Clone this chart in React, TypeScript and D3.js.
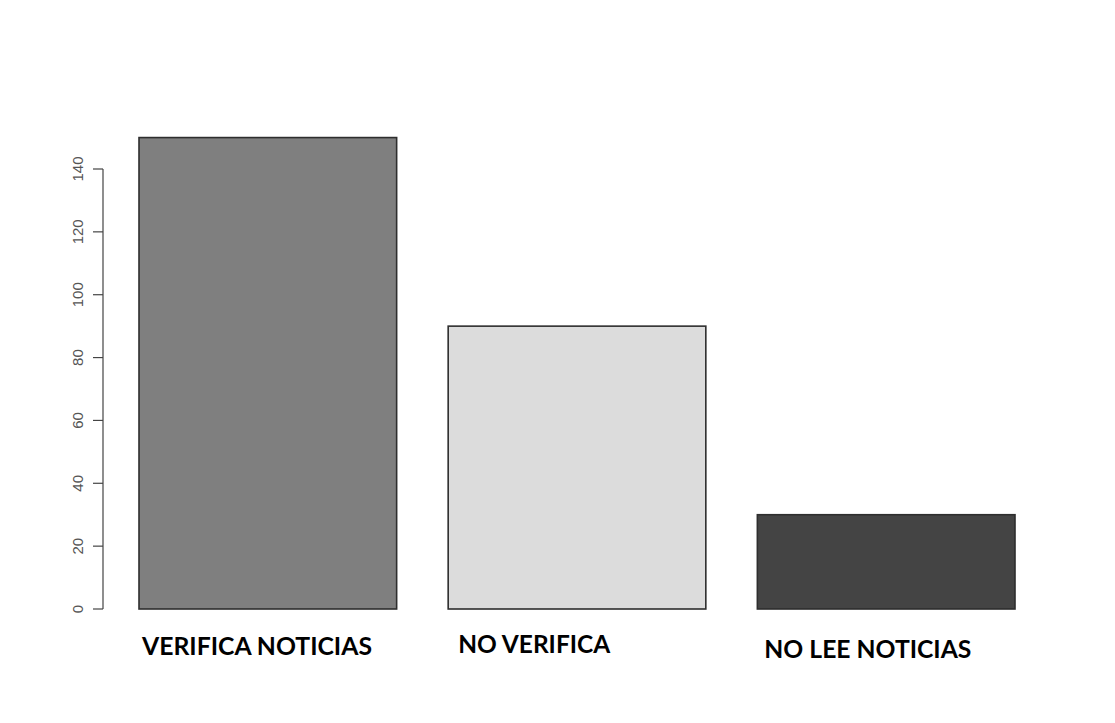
// @ts-nocheck
import React from "react";
import { scaleBand, scaleLinear } from "d3";

const categories = ["VERIFICA NOTICIAS", "NO VERIFICA", "NO LEE NOTICIAS"];
const counts = [150, 90, 30];
const barColors = ["#7f7f7f", "#dcdcdc", "#444444"];
const yTicks = [0, 20, 40, 60, 80, 100, 120, 140];

// label placement below each bar (offset from bar left edge, baseline)
const labelDx = [3, 10, 7];
const labelY = [655, 653, 658];
const labelWidth = [230, 152, 207];

const W = 1115;
const H = 723;

export default function App() {
  const x = scaleBand().domain(categories).range([139, 1015]).paddingInner(1 / 6).paddingOuter(0);
  const y = scaleLinear().domain([0, 140]).range([609, 169]);
  const axisX = 103;

  return (
    <svg width={W} height={H} style={{ position: "absolute", left: 0, top: 0, background: "#fff" }}>
      <rect width={W} height={H} fill="#fff" />
      {categories.map((c, i) => (
        <rect
          key={c}
          x={x(c)}
          y={y(counts[i])}
          width={x.bandwidth()}
          height={y(0) - y(counts[i])}
          fill={barColors[i]}
          stroke="#2e2e2e"
          strokeWidth={1.6}
        />
      ))}

      <g stroke="#444" strokeWidth={1.2} fill="none">
        <line x1={axisX} x2={axisX} y1={y(0)} y2={y(140)} />
        {yTicks.map((t) => (
          <line key={t} x1={axisX - 10} x2={axisX} y1={y(t)} y2={y(t)} />
        ))}
      </g>
      {yTicks.map((t) => (
        <text
          key={t}
          transform={`translate(${axisX - 20},${y(t)}) rotate(-90)`}
          textAnchor="middle"
          fontFamily="'Liberation Sans', Arial, sans-serif"
          fontSize={15}
          fill="#555"
        >
          {t}
        </text>
      ))}

      {categories.map((c, i) => (
        <text
          key={c}
          x={x(c) + labelDx[i]}
          y={labelY[i]}
          fontFamily="Lato, 'Open Sans', sans-serif"
          fontWeight="bold"
          fontSize={25}
          fill="#000"
          textLength={labelWidth[i]}
          lengthAdjust="spacingAndGlyphs"
        >
          {c}
        </text>
      ))}
    </svg>
  );
}
